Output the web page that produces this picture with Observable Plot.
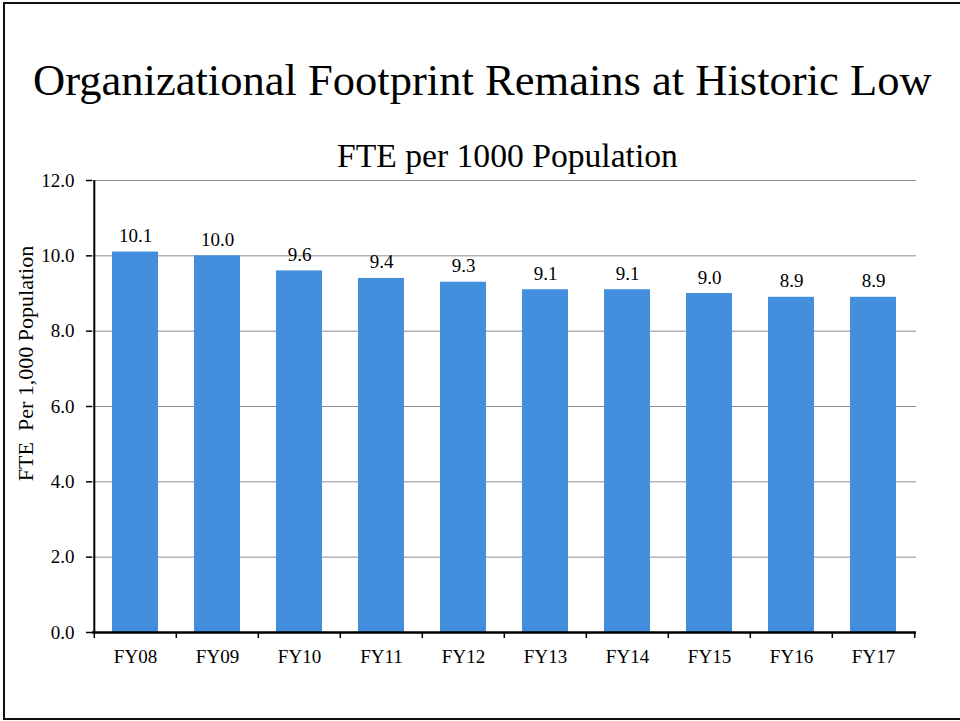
<!DOCTYPE html>
<html>
<head>
<meta charset="utf-8">
<script src="https://cdn.jsdelivr.net/npm/d3@7"></script>
<script src="https://cdn.jsdelivr.net/npm/@observablehq/plot@0.6"></script>
<style>
  html, body { margin: 0; padding: 0; background: #fff; }
  body { width: 960px; height: 721px; overflow: hidden; position: relative; font-family: "Liberation Serif", "DejaVu Serif", serif; }
  #frame { position: absolute; left: 3px; top: 2px; width: 962px; height: 718px; box-sizing: border-box; border: 2px solid #111; }
  .ttl { position: absolute; white-space: nowrap; line-height: 1; color: #000; }
  #chart { position: absolute; left: 0; top: 170px; }
</style>
</head>
<body>
<div id="frame"></div>
<div id="title" class="ttl">Organizational Footprint Remains at Historic Low</div>
<div id="subtitle" class="ttl">FTE per 1000 Population</div>
<div id="chart"></div>
<script>
// ---- data ----
const years = ["FY08", "FY09", "FY10", "FY11", "FY12", "FY13", "FY14", "FY15", "FY16", "FY17"];
const fte = [10.1, 10.0, 9.6, 9.4, 9.3, 9.1, 9.1, 9.0, 8.9, 8.9];
const yTicks = [0, 2, 4, 6, 8, 10, 12];
const yLabel = "FTE  Per 1,000 Population";

const data = years.map((year, i) => ({year, value: fte[i]}));

// ---- layout ----
const W = 960, H = 551, ML = 92, MR = 44, MT = 10, MB = 89;
const step = (W - ML - MR) / years.length;
const pxPerUnit = (H - MT - MB) / (yTicks[yTicks.length - 1] - yTicks[0]);
const tickLenUnits = 6 / pxPerUnit;
const font = "Liberation Serif";

const chart = Plot.plot({
  width: W, height: H,
  marginLeft: ML, marginRight: MR, marginTop: MT, marginBottom: MB,
  style: {fontFamily: font, fontSize: "19px", color: "#000", background: "transparent", overflow: "visible"},
  x: {domain: years, paddingInner: 0.44, paddingOuter: 0.22, label: null},
  y: {domain: [0, 12], label: null},
  marks: [
    Plot.gridY(yTicks.filter(d => d > 0), {stroke: "#8c8c8c", strokeOpacity: 1, strokeWidth: 1}),
    Plot.barY(data, {x: "year", y: "value", fill: "#448fdd"}),
    Plot.text(data, {x: "year", y: "value", text: d => d.value.toFixed(1), lineAnchor: "bottom", dy: -10, fill: "#000", fontSize: 19}),
    Plot.axisY({ticks: yTicks, tickFormat: d => d.toFixed(1), tickSize: 6, tickPadding: 12, label: null, stroke: "#000", strokeWidth: 1.5, fontSize: 19}),
    Plot.axisX({tickSize: 0, tickPadding: 17, label: null, fontSize: 19}),
    // x-axis boundary ticks between categories
    Plot.ruleX(years, {x: d => d, y1: 0, y2: -tickLenUnits, dx: -step / 2, stroke: "#000", strokeWidth: 1.5}),
    Plot.ruleX([years[years.length - 1]], {x: d => d, y1: 0, y2: -tickLenUnits, dx: step / 2, stroke: "#000", strokeWidth: 1.5}),
    // axis lines
    Plot.ruleX([years[0]], {x: d => d, y1: 0, y2: 12, dx: -step / 2, stroke: "#000", strokeWidth: 2}),
    Plot.ruleY([0], {stroke: "#000", strokeWidth: 2.5}),
    // y-axis title
    Plot.text([yLabel], {frameAnchor: "left", textAnchor: "middle", text: d => d, rotate: -90, dx: -67, dy: -43, fontSize: 22, fill: "#000"})
  ]
});
document.getElementById("chart").appendChild(chart);

// ---- fit titles to reference widths/baselines ----
function place(id, targetLeft, targetWidth, baseline) {
  const el = document.getElementById(id);
  el.style.fontSize = "40px";
  const w = el.getBoundingClientRect().width;
  const fs = 40 * targetWidth / w;
  el.style.fontSize = fs + "px";
  el.style.left = targetLeft + "px";
  // Liberation Serif: ascent 0.891, descent 0.216, line-height 1
  el.style.top = (baseline - fs * (0.891 - (1.107 - 1) / 2)) + "px";
}
place("title", 33, 899, 95);
place("subtitle", 337, 341, 167);
</script>
</body>
</html>
